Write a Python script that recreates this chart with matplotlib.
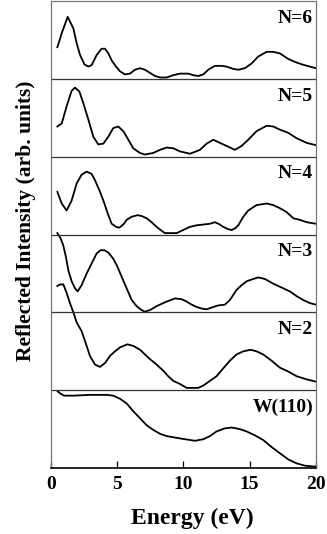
import matplotlib
matplotlib.use("Agg")
import matplotlib.pyplot as plt
import numpy as np

plt.rcParams['font.family'] = ['Liberation Serif', 'DejaVu Serif']
plt.rcParams['font.weight'] = 'bold'

# energy (eV) and intensity (fraction of one panel height) for each curve
e6 = [0.48, 0.81, 1.26, 1.69, 1.94, 2.19, 2.52, 2.82, 3.07, 3.45, 3.82, 4.08, 4.33, 4.58,
      4.91, 5.21, 5.58, 5.96, 6.34, 6.72, 7.09, 7.47, 7.85, 8.23, 8.73, 9.23, 9.74, 10.36,
      10.74, 11.12, 11.5, 11.87, 12.38, 12.88, 13.26, 13.76, 14.14, 14.64, 15.14, 15.65,
      16.28, 16.78, 17.28, 17.9, 18.42, 18.92, 19.55, 20.0]
i6 = [0.41, 0.59, 0.80, 0.65, 0.46, 0.31, 0.19, 0.16, 0.18, 0.31, 0.39, 0.39, 0.33, 0.24,
      0.16, 0.10, 0.06, 0.07, 0.12, 0.14, 0.12, 0.08, 0.04, 0.02, 0.02, 0.05, 0.07, 0.07,
      0.05, 0.04, 0.06, 0.12, 0.17, 0.17, 0.16, 0.13, 0.12, 0.14, 0.20, 0.29,
      0.35, 0.35, 0.33, 0.26, 0.22, 0.19, 0.16, 0.14]

e5 = [0.48, 0.81, 1.18, 1.56, 1.81, 2.14, 2.44, 2.82, 3.19, 3.57, 3.95, 4.33, 4.70, 5.08,
      5.46, 5.84, 6.21, 6.72, 7.09, 7.72, 8.23, 8.73, 9.23, 9.74, 10.49, 11.25, 11.75,
      12.25, 12.75, 13.26, 13.89, 14.39, 14.89, 15.52, 16.28, 16.78, 17.28, 17.9, 18.54,
      19.3, 20.0]
i5 = [0.39, 0.43, 0.65, 0.85, 0.89, 0.84, 0.69, 0.48, 0.26, 0.16, 0.17, 0.26, 0.37, 0.39,
      0.33, 0.22, 0.11, 0.05, 0.03, 0.05, 0.09, 0.12, 0.11, 0.07, 0.04, 0.09, 0.17,
      0.22, 0.18, 0.14, 0.09, 0.14, 0.22, 0.33, 0.40, 0.39, 0.35, 0.31, 0.24,
      0.18, 0.15]

e4 = [0.48, 0.81, 1.18, 1.56, 1.94, 2.31, 2.69, 3.07, 3.32, 3.70, 3.95, 4.33, 4.58, 4.91,
      5.16, 5.46, 5.71, 6.09, 6.52, 6.84, 7.22, 7.60, 7.97, 8.35, 8.60, 9.11, 9.49, 9.99,
      10.49, 11.0, 11.5, 12.0, 12.38, 12.75, 13.0, 13.38, 13.64, 13.89, 14.14, 14.52,
      14.89, 15.52, 16.28, 16.78, 17.28, 17.79, 18.3, 18.79, 19.3, 20.0]
i4 = [0.55, 0.40, 0.31, 0.44, 0.66, 0.77, 0.81, 0.78, 0.70, 0.55, 0.44, 0.25, 0.14, 0.10,
      0.09, 0.13, 0.19, 0.23, 0.25, 0.24, 0.21, 0.16, 0.10, 0.05, 0.02, 0.02, 0.02, 0.06,
      0.10, 0.12, 0.13, 0.14, 0.16, 0.13, 0.10, 0.07, 0.06, 0.08, 0.12, 0.23,
      0.31, 0.38, 0.40, 0.38, 0.34, 0.29, 0.21, 0.19, 0.16, 0.14]

e3 = [0.48, 0.73, 0.93, 1.13, 1.31, 1.56, 1.81, 2.01, 2.31, 2.69, 3.07, 3.45, 3.75, 4.03,
      4.33, 4.70, 5.01, 5.33, 5.71, 6.09, 6.47, 6.84, 7.09, 7.47, 7.97, 8.60, 9.36, 9.86,
      10.24, 10.62, 11.0, 11.37, 11.75, 12.25, 12.63, 13.13, 13.51, 14.01, 14.39, 14.77,
      15.27, 15.65, 16.15, 16.78, 17.41, 18.04, 18.54, 19.04, 19.55, 20.0]
i3 = [1.02, 0.95, 0.86, 0.71, 0.54, 0.40, 0.31, 0.27, 0.35, 0.50, 0.63, 0.76, 0.80, 0.80,
      0.77, 0.69, 0.59, 0.46, 0.31, 0.16, 0.08, 0.03, 0.01, 0.03, 0.08, 0.13, 0.18, 0.17,
      0.14, 0.10, 0.07, 0.05, 0.04, 0.07, 0.09, 0.10, 0.16, 0.29, 0.35, 0.40,
      0.43, 0.45, 0.43, 0.37, 0.32, 0.27, 0.21, 0.16, 0.12, 0.10]

e2 = [0.48, 0.68, 0.93, 1.18, 1.43, 1.69, 1.94, 2.31, 2.69, 2.94, 3.32, 3.70, 4.08, 4.45,
      4.83, 5.21, 5.76, 6.21, 6.72, 7.47, 7.97, 8.48, 8.85, 9.23, 9.74, 10.24, 10.74,
      11.12, 11.5, 12.0, 12.5, 13.0, 13.51, 14.01, 14.52, 15.07, 15.52, 16.02, 16.65,
      17.28, 17.92, 18.54, 19.3, 20.0]
i2 = [1.34, 1.36, 1.36, 1.25, 1.12, 1.00, 0.87, 0.76, 0.57, 0.44, 0.33, 0.30, 0.35, 0.44,
      0.50, 0.55, 0.59, 0.57, 0.52, 0.40, 0.33, 0.25, 0.18, 0.12, 0.08, 0.03, 0.03,
      0.03, 0.06, 0.12, 0.18, 0.28, 0.38, 0.46, 0.50, 0.52, 0.50, 0.46, 0.38,
      0.29, 0.24, 0.18, 0.14, 0.11]

ew = [0.48, 0.68, 0.98, 1.69, 2.94, 4.2, 4.70, 5.21, 5.71, 6.21, 6.72, 7.22, 7.72, 8.23,
      8.73, 9.74, 10.87, 11.5, 12.0, 12.5, 13.13, 13.64, 14.26, 14.77, 15.39, 16.02, 16.65,
      17.28, 17.92, 18.54, 19.17, 19.8, 20.0]
iw = [0.99, 0.96, 0.93, 0.93, 0.94, 0.94, 0.93, 0.89, 0.83, 0.73, 0.64, 0.55, 0.49, 0.44,
      0.41, 0.38, 0.35, 0.37, 0.41, 0.47, 0.51, 0.52, 0.50, 0.47, 0.42, 0.36, 0.27,
      0.19, 0.11, 0.06, 0.03, 0.02, 0.02]

labels = ['W(110)', 'N=2', 'N=3', 'N=4', 'N=5', 'N=6']
curves = [(ew, iw), (e2, i2), (e3, i3), (e4, i4), (e5, i5), (e6, i6)]

fig = plt.figure(figsize=(3.27, 5.34), dpi=100)
ax = fig.add_axes([0.156, 0.1236, 0.81, 0.874])

for k, (e, inten) in enumerate(curves):
    ax.plot(e, np.array(inten) + k, color='black', lw=1.3, solid_joinstyle='round')
    ax.text(19.8, k + 0.78, labels[k], ha='right', va='center', fontsize=14, fontweight='bold')

for k in range(1, 6):
    ax.axhline(k, color='#333333', lw=0.9)

ax.set_xlim(0, 20)
ax.set_ylim(0, 6)
ax.set_yticks([])
ax.set_xticks([0, 5, 10, 15, 20])
ax.tick_params(axis='x', direction='in', length=5, width=0.9, labelsize=14, pad=6)
for lab in ax.get_xticklabels():
    lab.set_fontweight('bold')
for s in ['top', 'left', 'right']:
    ax.spines[s].set_color('#777777')
    ax.spines[s].set_linewidth(0.9)
ax.spines['bottom'].set_linewidth(1.2)

ax.set_xlabel('Energy (eV)', fontsize=17, fontweight='bold')
ax.xaxis.set_label_coords(0.532, -0.085)
ax.set_ylabel('Reflected Intensity (arb. units)', fontsize=15.5, fontweight='bold')
ax.yaxis.set_label_coords(-0.058, 0.529)

fig.savefig('out.png', dpi=100)
